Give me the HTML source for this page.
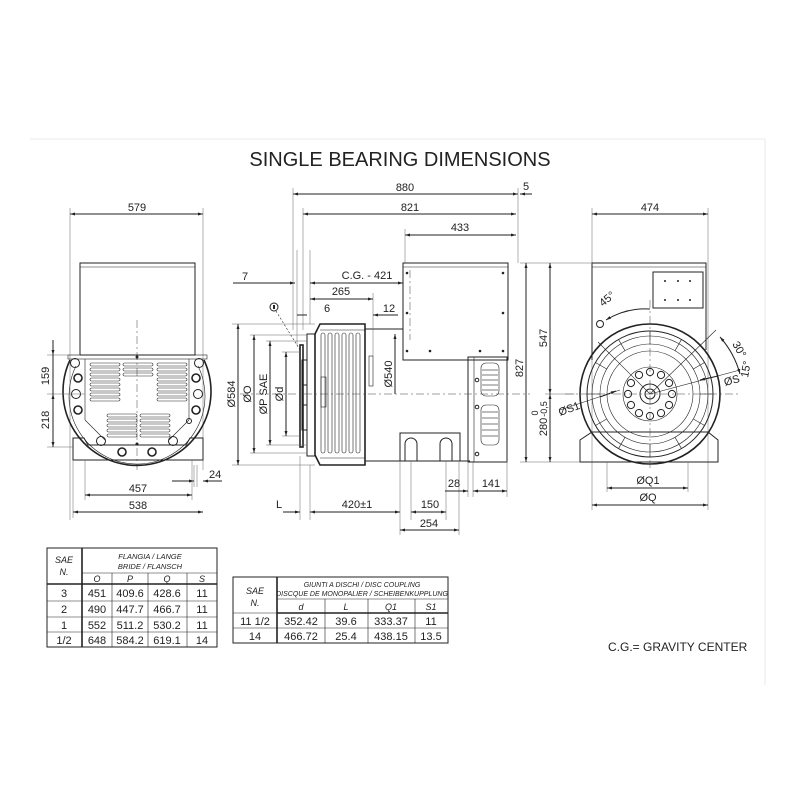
<!DOCTYPE html>
<html><head><meta charset="utf-8"><style>
html,body{margin:0;padding:0;background:#fff;}
svg{display:block;}
text{font-family:"Liberation Sans",sans-serif;fill:#222;}
.d{font-size:11px;}
.ln{stroke:#222;fill:none;stroke-width:1;}
.th{stroke:#222;fill:none;stroke-width:0.6;}
.tk{stroke:#222;fill:none;stroke-width:1.6;}
.cl{stroke:#444;fill:none;stroke-width:0.5;stroke-dasharray:8,3,2,3;}
.ex{stroke:#666;fill:none;stroke-width:0.5;}
.fr{stroke:#e4e4e4;fill:none;stroke-width:0.8;}
</style></head><body>
<svg width="800" height="800" viewBox="0 0 800 800" xmlns="http://www.w3.org/2000/svg">
<defs>
<marker id="a" viewBox="0 0 10 10" refX="10" refY="5" markerWidth="7" markerHeight="5" orient="auto-start-reverse"><path d="M0,2 L10,5 L0,8 z" fill="#222"/></marker>
<g id="slotH"><rect x="0" y="0" width="30" height="3" rx="1.5" class="th"/></g>
</defs>
<!-- frame -->
<line x1="30" y1="139" x2="765" y2="139" class="fr"/>
<line x1="765" y1="139" x2="765" y2="685" class="fr"/>

<text x="400" y="166" font-size="20" text-anchor="middle">SINGLE BEARING DIMENSIONS</text>

<!-- ================= LEFT VIEW ================= -->
<g>
<line x1="70" y1="214" x2="203" y2="214" class="ln" marker-start="url(#a)" marker-end="url(#a)"/>
<text x="137" y="211" class="d" text-anchor="middle">579</text>
<line x1="70" y1="208" x2="70" y2="520" class="ex"/>
<line x1="203" y1="208" x2="203" y2="470" class="ex"/>
<rect x="80" y="263" width="115" height="92" class="ln"/>
<line x1="80" y1="267" x2="195" y2="267" class="th"/>
<line x1="137" y1="320" x2="137" y2="470" class="cl"/>
<rect x="68" y="355" width="139" height="4" class="th"/>
<path d="M73,438 L73,460 L203,460 L203,438 L190,438 L186,445 L88,445 L84,438 Z" class="ln"/>
<path d="M70,360 A74,74 0 1 0 204,360" class="tk"/>
<path d="M76,366 A68,68 0 1 0 198,366" class="th"/>
<line x1="85" y1="359" x2="85" y2="420" class="th"/>
<line x1="189" y1="359" x2="189" y2="420" class="th"/>
<line x1="85" y1="420" x2="105" y2="440" class="th"/>
<line x1="189" y1="420" x2="169" y2="440" class="th"/>
<g>
<use href="#slotH" x="90" y="363"/><use href="#slotH" x="90" y="368"/><use href="#slotH" x="90" y="373"/><use href="#slotH" x="90" y="378"/><use href="#slotH" x="90" y="383"/><use href="#slotH" x="90" y="388"/><use href="#slotH" x="90" y="393"/><use href="#slotH" x="90" y="398"/>
<use href="#slotH" x="157" y="363"/><use href="#slotH" x="157" y="368"/><use href="#slotH" x="157" y="373"/><use href="#slotH" x="157" y="378"/><use href="#slotH" x="157" y="383"/><use href="#slotH" x="157" y="388"/><use href="#slotH" x="157" y="393"/><use href="#slotH" x="157" y="398"/>
<use href="#slotH" x="123" y="363"/><use href="#slotH" x="123" y="368"/><use href="#slotH" x="123" y="373"/>
<use href="#slotH" x="107" y="414"/><use href="#slotH" x="107" y="419"/><use href="#slotH" x="107" y="424"/><use href="#slotH" x="107" y="429"/><use href="#slotH" x="107" y="434"/>
<use href="#slotH" x="140" y="414"/><use href="#slotH" x="140" y="419"/><use href="#slotH" x="140" y="424"/><use href="#slotH" x="140" y="429"/><use href="#slotH" x="140" y="434"/>
</g>
<circle cx="75" cy="363" r="4.5" class="ln"/><circle cx="199" cy="363" r="4.5" class="ln"/>
<circle cx="78" cy="378" r="4" class="tk"/><circle cx="196" cy="378" r="4" class="tk"/>
<circle cx="76" cy="394" r="4.5" class="ln"/><circle cx="198" cy="394" r="4.5" class="ln"/>
<circle cx="78" cy="410" r="4" class="tk"/><circle cx="196" cy="410" r="4" class="tk"/>
<circle cx="101" cy="441" r="4.5" class="ln"/><circle cx="173" cy="441" r="4.5" class="ln"/>
<circle cx="122" cy="452" r="4" class="tk"/><circle cx="152" cy="452" r="4" class="tk"/>
<circle cx="137" cy="357" r="1.5" fill="#222"/><circle cx="137" cy="444" r="1.5" fill="#222"/>
<circle cx="189" cy="421" r="2.5" class="ln"/>
<!-- dims -->
<line x1="47" y1="355" x2="80" y2="355" class="ex"/>
<line x1="47" y1="394" x2="85" y2="394" class="ex"/>
<line x1="47" y1="447" x2="73" y2="447" class="ex"/>
<line x1="53" y1="340" x2="53" y2="355" class="ln" marker-end="url(#a)"/>
<line x1="53" y1="355" x2="53" y2="394" class="ln"/>
<line x1="53" y1="394" x2="53" y2="447" class="ln" marker-start="url(#a)" marker-end="url(#a)"/>
<text transform="translate(49,376) rotate(-90)" class="d" text-anchor="middle">159</text>
<text transform="translate(49,420) rotate(-90)" class="d" text-anchor="middle">218</text>
<line x1="85" y1="460" x2="85" y2="500" class="ex"/>
<line x1="192" y1="460" x2="192" y2="500" class="ex"/>
<line x1="73" y1="460" x2="73" y2="518" class="ex"/>
<line x1="85" y1="495" x2="192" y2="495" class="ln" marker-start="url(#a)" marker-end="url(#a)"/>
<text x="138" y="492" class="d" text-anchor="middle">457</text>
<line x1="73" y1="512" x2="203" y2="512" class="ln" marker-start="url(#a)" marker-end="url(#a)"/>
<text x="138" y="509" class="d" text-anchor="middle">538</text>
<line x1="194" y1="465" x2="194" y2="487" class="ex"/><line x1="197" y1="465" x2="197" y2="487" class="ex"/>
<line x1="172" y1="481" x2="194" y2="481" class="ln" marker-end="url(#a)"/>
<line x1="203" y1="481" x2="222" y2="481" class="ln" marker-start="url(#a)"/>
<text x="209" y="478" class="d">24</text>
</g>

<!-- ================= MIDDLE VIEW ================= -->
<g>
<line x1="293" y1="194" x2="518" y2="194" class="ln" marker-start="url(#a)" marker-end="url(#a)"/>
<text x="405" y="191" class="d" text-anchor="middle">880</text>
<line x1="520" y1="194" x2="532" y2="194" class="ln" marker-start="url(#a)"/>
<text x="523" y="190" class="d">5</text>
<line x1="303" y1="214" x2="516" y2="214" class="ln" marker-start="url(#a)" marker-end="url(#a)"/>
<text x="410" y="211" class="d" text-anchor="middle">821</text>
<line x1="405" y1="235" x2="516" y2="235" class="ln" marker-start="url(#a)" marker-end="url(#a)"/>
<text x="460" y="231" class="d" text-anchor="middle">433</text>
<line x1="293" y1="188" x2="293" y2="330" class="ex"/>
<line x1="303" y1="208" x2="303" y2="330" class="ex"/>
<line x1="405" y1="229" x2="405" y2="263" class="ex"/>
<line x1="518" y1="188" x2="518" y2="263" class="ex"/>
<rect x="403" y="263" width="105" height="97" class="ln"/>
<line x1="403" y1="267" x2="508" y2="267" class="th"/>
<circle cx="407" cy="273" r="1.3" fill="#222"/><circle cx="503" cy="273" r="1.3" fill="#222"/>
<circle cx="407" cy="313" r="1.3" fill="#222"/><circle cx="503" cy="313" r="1.3" fill="#222"/>
<circle cx="407" cy="351" r="1.3" fill="#222"/><circle cx="430" cy="351" r="1.3" fill="#222"/><circle cx="480" cy="351" r="1.3" fill="#222"/><circle cx="503" cy="351" r="1.3" fill="#222"/>
<line x1="410" y1="270" x2="410" y2="340" class="cl"/>
<path d="M365,329 L403,329 M403,360 L470,360 M365,461 L470,461" class="ln"/>
<rect x="468" y="357" width="39" height="105" class="ln"/>
<rect x="468" y="357" width="6" height="105" class="th"/>
<g class="th">
<rect x="481" y="363" width="18" height="33" rx="5"/><rect x="481" y="405" width="18" height="40" rx="5"/>
<line x1="482" y1="370" x2="498" y2="370"/><line x1="482" y1="375" x2="498" y2="375"/><line x1="482" y1="380" x2="498" y2="380"/><line x1="482" y1="385" x2="498" y2="385"/><line x1="482" y1="390" x2="498" y2="390"/>
<line x1="482" y1="412" x2="498" y2="412"/><line x1="482" y1="418" x2="498" y2="418"/><line x1="482" y1="424" x2="498" y2="424"/><line x1="482" y1="430" x2="498" y2="430"/><line x1="482" y1="436" x2="498" y2="436"/>
</g>
<circle cx="477" cy="380" r="1.8" class="ln"/><circle cx="477" cy="407" r="1.8" class="ln"/><circle cx="477" cy="454" r="1.8" class="ln"/>
<rect x="400" y="433" width="60" height="28" class="ln"/>
<path d="M405,461 L405,444 A6,6 0 0 1 417,444 L417,461 M440,461 L440,444 A6,6 0 0 1 452,444 L452,461" class="ln"/>
<path d="M320,324 L365,324 L365,465 L320,465 L315,455 L315,334 Z" class="tk"/>
<g class="th">
<line x1="320" y1="330" x2="365" y2="330"/><line x1="320" y1="458" x2="365" y2="458"/>
<rect x="321" y="333" width="4" height="120" rx="2"/><rect x="328" y="333" width="4" height="120" rx="2"/><rect x="335" y="333" width="4" height="120" rx="2"/><rect x="342" y="333" width="4" height="120" rx="2"/><rect x="349" y="333" width="4" height="120" rx="2"/><rect x="356" y="333" width="4" height="120" rx="2"/>
<rect x="321" y="377" width="5" height="30"/>
</g>
<rect x="307" y="334" width="8" height="122" class="ln"/>
<rect x="300" y="345" width="3" height="102" class="tk"/>
<rect x="302" y="360" width="5" height="70" class="ln"/>
<rect x="303" y="385" width="4" height="20" class="ln"/>
<rect x="369" y="356" width="4" height="30" class="th"/>
<line x1="240" y1="394" x2="530" y2="394" class="cl"/>
<line x1="232" y1="324" x2="315" y2="324" class="ex"/><line x1="232" y1="465" x2="315" y2="465" class="ex"/>
<line x1="250" y1="335" x2="307" y2="335" class="ex"/><line x1="250" y1="453" x2="307" y2="453" class="ex"/>
<line x1="266" y1="341" x2="307" y2="341" class="ex"/><line x1="266" y1="445" x2="307" y2="445" class="ex"/>
<line x1="282" y1="352" x2="300" y2="352" class="ex"/><line x1="282" y1="436" x2="300" y2="436" class="ex"/>
<line x1="238" y1="324" x2="238" y2="465" class="ln" marker-start="url(#a)" marker-end="url(#a)"/>
<line x1="254" y1="335" x2="254" y2="453" class="ln" marker-start="url(#a)" marker-end="url(#a)"/>
<line x1="270" y1="341" x2="270" y2="445" class="ln" marker-start="url(#a)" marker-end="url(#a)"/>
<line x1="286" y1="352" x2="286" y2="436" class="ln" marker-start="url(#a)" marker-end="url(#a)"/>
<text transform="translate(235,394) rotate(-90)" class="d" text-anchor="middle">Ø584</text>
<text transform="translate(251,394) rotate(-90)" class="d" text-anchor="middle">ØO</text>
<text transform="translate(267,394) rotate(-90)" class="d" text-anchor="middle">ØP  SAE</text>
<text transform="translate(283,394) rotate(-90)" class="d" text-anchor="middle">Ød</text>
<line x1="297" y1="250" x2="297" y2="345" class="ex"/>
<line x1="310" y1="250" x2="310" y2="324" class="ex"/>
<line x1="373" y1="293" x2="373" y2="356" class="ex"/>
<line x1="233" y1="283" x2="295" y2="283" class="ln" marker-end="url(#a)"/>
<text x="242" y="280" class="d">7</text>
<line x1="310" y1="283" x2="403" y2="283" class="ln" marker-start="url(#a)" marker-end="url(#a)"/>
<text x="367" y="279" class="d" text-anchor="middle">C.G.  -  421</text>
<line x1="310" y1="299" x2="373" y2="299" class="ln" marker-start="url(#a)" marker-end="url(#a)"/>
<text x="341" y="295" class="d" text-anchor="middle">265</text>
<line x1="297" y1="315" x2="307" y2="315" class="ln"/>
<text x="327" y="312" class="d" text-anchor="middle">6</text>
<line x1="373" y1="315" x2="398" y2="315" class="ln" marker-start="url(#a)"/>
<text x="389" y="312" class="d" text-anchor="middle">12</text>
<circle cx="274" cy="307" r="4" class="ln"/><rect x="273" y="305" width="2" height="4" fill="#222"/>
<line x1="276" y1="311" x2="300" y2="350" class="th" stroke-dasharray="2,2"/>
<line x1="395" y1="334" x2="395" y2="394" class="ln" marker-start="url(#a)"/>
<text transform="translate(392,374) rotate(-90)" class="d" text-anchor="middle">Ø540</text>
<line x1="300" y1="456" x2="300" y2="520" class="ex"/>
<line x1="310" y1="465" x2="310" y2="520" class="ex"/>
<line x1="400" y1="461" x2="400" y2="535" class="ex"/>
<line x1="411" y1="461" x2="411" y2="520" class="ex"/>
<line x1="446" y1="461" x2="446" y2="520" class="ex"/>
<line x1="459" y1="461" x2="459" y2="535" class="ex"/>
<line x1="468" y1="461" x2="468" y2="497" class="ex"/>
<line x1="473" y1="461" x2="473" y2="497" class="ex"/>
<line x1="507" y1="461" x2="507" y2="497" class="ex"/>
<line x1="445" y1="491" x2="468" y2="491" class="ln" marker-end="url(#a)"/>
<line x1="473" y1="491" x2="507" y2="491" class="ln" marker-start="url(#a)" marker-end="url(#a)"/>
<text x="454" y="487" class="d" text-anchor="middle">28</text>
<text x="491" y="487" class="d" text-anchor="middle">141</text>
<line x1="283" y1="512" x2="300" y2="512" class="ln" marker-end="url(#a)"/>
<line x1="310" y1="512" x2="400" y2="512" class="ln" marker-start="url(#a)" marker-end="url(#a)"/>
<line x1="411" y1="512" x2="446" y2="512" class="ln" marker-start="url(#a)" marker-end="url(#a)"/>
<text x="279" y="508" class="d" text-anchor="middle">L</text>
<text x="357" y="508" class="d" text-anchor="middle">420±1</text>
<text x="430" y="508" class="d" text-anchor="middle">150</text>
<line x1="400" y1="530" x2="459" y2="530" class="ln" marker-start="url(#a)" marker-end="url(#a)"/>
<text x="429" y="527" class="d" text-anchor="middle">254</text>
</g>

<!-- ================= RIGHT VIEW ================= -->
<g>
<line x1="592" y1="214" x2="708" y2="214" class="ln" marker-start="url(#a)" marker-end="url(#a)"/>
<text x="650" y="211" class="d" text-anchor="middle">474</text>
<line x1="592" y1="208" x2="592" y2="510" class="ex"/>
<line x1="708" y1="208" x2="708" y2="510" class="ex"/>
<path d="M592,360 L592,263 L706,263 L706,350" class="ln"/>
<line x1="592" y1="267" x2="706" y2="267" class="th"/>
<rect x="653" y="272" width="50" height="36" class="ln"/>
<g fill="#222"><circle cx="665" cy="281" r="1"/><circle cx="678" cy="281" r="1"/><circle cx="690" cy="281" r="1"/><circle cx="665" cy="300" r="1"/><circle cx="678" cy="300" r="1"/><circle cx="690" cy="300" r="1"/></g>
<circle cx="600" cy="324" r="3.5" class="ln"/>
<path d="M580,440 L580,462 L718,462 L718,440 L708,432 L592,432 Z" class="ln"/>
<circle cx="650" cy="394" r="70" class="tk" fill="#fff"/>
<circle cx="650" cy="394" r="63" class="ln"/>
<circle cx="650" cy="394" r="58" class="th"/>
<circle cx="650" cy="394" r="50" class="th"/>
<circle cx="650" cy="394" r="43" class="th"/>
<g class="th" transform="translate(650,394)">
<g id="rib"><line x1="0" y1="-50" x2="0" y2="-63"/></g>
<use href="#rib" transform="rotate(30)"/><use href="#rib" transform="rotate(60)"/><use href="#rib" transform="rotate(90)"/><use href="#rib" transform="rotate(120)"/><use href="#rib" transform="rotate(150)"/><use href="#rib" transform="rotate(180)"/><use href="#rib" transform="rotate(210)"/><use href="#rib" transform="rotate(240)"/><use href="#rib" transform="rotate(270)"/><use href="#rib" transform="rotate(300)"/><use href="#rib" transform="rotate(330)"/>
</g>
<circle cx="650" cy="394" r="27" class="th"/>
<g class="ln" transform="translate(650,394)">
<g id="bh"><circle cx="0" cy="-22" r="3.6"/></g>
<use href="#bh" transform="rotate(30)"/><use href="#bh" transform="rotate(60)"/><use href="#bh" transform="rotate(90)"/><use href="#bh" transform="rotate(120)"/><use href="#bh" transform="rotate(150)"/><use href="#bh" transform="rotate(180)"/><use href="#bh" transform="rotate(210)"/><use href="#bh" transform="rotate(240)"/><use href="#bh" transform="rotate(270)"/><use href="#bh" transform="rotate(300)"/><use href="#bh" transform="rotate(330)"/>
</g>
<circle cx="650" cy="394" r="10" class="ln"/><circle cx="650" cy="394" r="5" class="ln"/>
<line x1="650" y1="300" x2="650" y2="470" class="cl"/>
<line x1="565" y1="394" x2="740" y2="394" class="cl"/>
<line x1="650" y1="394" x2="598" y2="342" class="th"/>
<path d="M606,320 A75,75 0 0 1 650,309" class="ln" marker-start="url(#a)"/>
<text transform="translate(603,307) rotate(-40)" class="d">45°</text>
<line x1="650" y1="394" x2="716" y2="330" class="th"/>
<path d="M720,337 A92,92 0 0 1 740,374" class="ln" marker-start="url(#a)" marker-end="url(#a)"/>
<text transform="translate(732,344) rotate(60)" class="d">30°</text>
<line x1="650" y1="394" x2="740" y2="370" class="th"/>
<text transform="translate(748,378) rotate(-80)" class="d">15°</text>
<line x1="700" y1="380" x2="718" y2="376" class="ln" marker-start="url(#a)"/>
<text transform="translate(725,386) rotate(-15)" class="d">ØS</text>
<line x1="560" y1="410" x2="620" y2="390" class="th"/>
<line x1="600" y1="397" x2="616" y2="391" class="ln" marker-end="url(#a)"/>
<text transform="translate(560,416) rotate(-20)" class="d">ØS1</text>
<line x1="520" y1="263" x2="592" y2="263" class="ex"/>
<line x1="520" y1="462" x2="580" y2="462" class="ex"/>
<line x1="545" y1="394" x2="575" y2="394" class="ex"/>
<line x1="526" y1="263" x2="526" y2="462" class="ln" marker-start="url(#a)" marker-end="url(#a)"/>
<line x1="550" y1="263" x2="550" y2="394" class="ln" marker-start="url(#a)" marker-end="url(#a)"/>
<line x1="550" y1="394" x2="550" y2="462" class="ln" marker-start="url(#a)" marker-end="url(#a)"/>
<text transform="translate(523,368) rotate(-90)" class="d" text-anchor="middle">827</text>
<text transform="translate(547,338) rotate(-90)" class="d" text-anchor="middle">547</text>
<text transform="translate(547,427) rotate(-90)" class="d" text-anchor="middle">280</text>
<text transform="translate(538,413) rotate(-90)" font-size="9" text-anchor="middle">0</text>
<text transform="translate(547,409) rotate(-90)" font-size="9" text-anchor="middle">-0,5</text>
<line x1="607" y1="462" x2="607" y2="492" class="ex"/>
<line x1="688" y1="462" x2="688" y2="492" class="ex"/>
<line x1="607" y1="488" x2="688" y2="488" class="ln" marker-start="url(#a)" marker-end="url(#a)"/>
<text x="648" y="484" class="d" text-anchor="middle">ØQ1</text>
<line x1="592" y1="505" x2="708" y2="505" class="ln" marker-start="url(#a)" marker-end="url(#a)"/>
<text x="648" y="501" class="d" text-anchor="middle">ØQ</text>
</g>

<!-- ================= TABLE 1 ================= -->
<g font-size="11">
<rect x="47" y="548" width="170" height="99" class="ln"/>
<line x1="82" y1="548" x2="82" y2="647" class="tk"/>
<line x1="82" y1="573" x2="217" y2="573" class="th"/>
<line x1="47" y1="584" x2="217" y2="584" class="tk"/>
<line x1="47" y1="601" x2="217" y2="601" class="th"/>
<line x1="47" y1="617" x2="217" y2="617" class="th"/>
<line x1="47" y1="632" x2="217" y2="632" class="th"/>
<line x1="112" y1="573" x2="112" y2="647" class="th"/>
<line x1="148" y1="573" x2="148" y2="647" class="th"/>
<line x1="187" y1="573" x2="187" y2="647" class="th"/>
<text x="64" y="563" font-size="9" font-style="italic" text-anchor="middle">SAE</text>
<text x="64" y="575" font-size="9" font-style="italic" text-anchor="middle">N.</text>
<text x="150" y="559" font-size="7.5" font-style="italic" text-anchor="middle">FLANGIA  /  LANGE</text>
<text x="150" y="569" font-size="7.5" font-style="italic" text-anchor="middle">BRIDE  /  FLANSCH</text>
<text x="97" y="582" font-size="9" font-style="italic" text-anchor="middle">O</text>
<text x="130" y="582" font-size="9" font-style="italic" text-anchor="middle">P</text>
<text x="167" y="582" font-size="9" font-style="italic" text-anchor="middle">Q</text>
<text x="202" y="582" font-size="9" font-style="italic" text-anchor="middle">S</text>
<g text-anchor="middle">
<text x="64" y="597">3</text><text x="97" y="597">451</text><text x="130" y="597">409.6</text><text x="167" y="597">428.6</text><text x="202" y="597">11</text>
<text x="64" y="613">2</text><text x="97" y="613">490</text><text x="130" y="613">447.7</text><text x="167" y="613">466.7</text><text x="202" y="613">11</text>
<text x="64" y="629">1</text><text x="97" y="629">552</text><text x="130" y="629">511.2</text><text x="167" y="629">530.2</text><text x="202" y="629">11</text>
<text x="64" y="644">1/2</text><text x="97" y="644">648</text><text x="130" y="644">584.2</text><text x="167" y="644">619.1</text><text x="202" y="644">14</text>
</g>
</g>

<!-- ================= TABLE 2 ================= -->
<g font-size="11">
<rect x="233" y="577" width="215" height="66" class="ln"/>
<line x1="277" y1="577" x2="277" y2="643" class="tk"/>
<line x1="277" y1="599" x2="448" y2="599" class="th"/>
<line x1="233" y1="613" x2="448" y2="613" class="th"/>
<line x1="277" y1="613" x2="448" y2="613" class="tk"/>
<line x1="233" y1="628" x2="448" y2="628" class="th"/>
<line x1="325" y1="599" x2="325" y2="643" class="th"/>
<line x1="368" y1="599" x2="368" y2="643" class="th"/>
<line x1="415" y1="599" x2="415" y2="643" class="th"/>
<text x="255" y="594" font-size="9" font-style="italic" text-anchor="middle">SAE</text>
<text x="255" y="606" font-size="9" font-style="italic" text-anchor="middle">N.</text>
<text x="362" y="587" font-size="7" font-style="italic" text-anchor="middle">GIUNTI A DISCHI  /  DISC COUPLING</text>
<text x="362" y="596" font-size="7" font-style="italic" text-anchor="middle">DISCQUE DE MONOPALIER  /  SCHEIBENKUPPLUNG</text>
<text x="301" y="610" font-size="9" font-style="italic" text-anchor="middle">d</text>
<text x="346" y="610" font-size="9" font-style="italic" text-anchor="middle">L</text>
<text x="391" y="610" font-size="9" font-style="italic" text-anchor="middle">Q1</text>
<text x="431" y="610" font-size="9" font-style="italic" text-anchor="middle">S1</text>
<g text-anchor="middle">
<text x="255" y="625">11  1/2</text><text x="301" y="625">352.42</text><text x="346" y="625">39.6</text><text x="391" y="625">333.37</text><text x="431" y="625">11</text>
<text x="255" y="640">14</text><text x="301" y="640">466.72</text><text x="346" y="640">25.4</text><text x="391" y="640">438.15</text><text x="431" y="640">13.5</text>
</g>
</g>

<text x="608" y="651" font-size="12">C.G.= GRAVITY CENTER</text>
</svg>
</body></html>
